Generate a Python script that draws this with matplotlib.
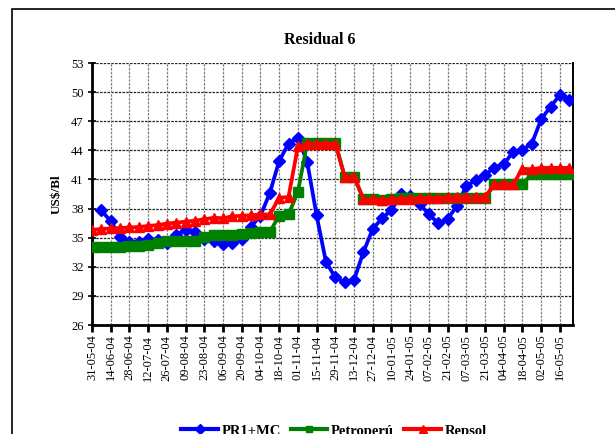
import numpy as np
import matplotlib
matplotlib.use("Agg")
import matplotlib.pyplot as plt
from matplotlib.patches import Rectangle
from matplotlib.lines import Line2D

title = "Residual 6"
ylabel = "US$/Bl"
series_names = ["PR1+MC", "Petroperú", "Repsol"]

tick_labels = ["31-05-04", "14-06-04", "28-06-04", "12-07-04", "26-07-04", "09-08-04",
               "23-08-04", "06-09-04", "20-09-04", "04-10-04", "18-10-04", "01-11-04",
               "15-11-04", "29-11-04", "13-12-04", "27-12-04", "10-01-05", "24-01-05",
               "07-02-05", "21-02-05", "07-03-05", "21-03-05", "04-04-05", "18-04-05",
               "02-05-05", "16-05-05"]

pr1mc = [np.nan, 37.8, 36.7, 35.1, 34.6, 34.6, 34.9, 34.8, 34.4, 35.3, 35.8, 35.6, 34.9,
         34.7, 34.35, 34.45, 34.85, 36.15, 37.25, 39.6, 42.9, 44.7, 45.3, 42.8, 37.3, 32.5,
         30.9, 30.4, 30.65, 33.5, 35.9, 37.0, 37.85, 39.45, 39.3, 38.5, 37.4, 36.5, 36.9,
         38.3, 40.35, 40.9, 41.5, 42.2, 42.6, 43.8, 44.05, 44.7, 47.2, 48.5, 49.7, 49.2]

petroperu = [34.0, 34.0, 34.05, 34.05, 34.1, 34.1, 34.25, 34.5, 34.65, 34.65, 34.7, 34.7,
             35.05, 35.3, 35.25, 35.25, 35.35, 35.45, 35.55, 35.6, 37.25, 37.4, 39.7,
             44.8, 44.8, 44.8, 44.8, 41.3, 41.3, 39.0, 39.0, 38.9, 38.95,
             39.05, 39.05, 39.05, 39.05, 39.05, 39.05, 39.05, 39.05, 39.05, 39.05,
             40.5, 40.5, 40.5, 40.5, 41.6, 41.6, 41.6, 41.6, 41.6]

repsol = [35.8, 35.9, 35.95, 36.0, 36.05, 36.1, 36.2, 36.3, 36.45, 36.55, 36.65, 36.75,
          36.9, 37.05, 37.0, 37.2, 37.25, 37.3, 37.4, 37.4, 39.1, 39.2, 44.4,
          44.7, 44.7, 44.7, 44.7, 41.3, 41.3, 38.95, 38.95, 38.85, 38.95, 39.0, 39.0,
          39.1, 39.1, 39.1, 39.2, 39.2, 39.2, 39.2, 39.2, 40.5, 40.5, 40.5,
          42.1, 42.05, 42.2, 42.2, 42.2, 42.2]

yticks = [26, 29, 32, 35, 38, 41, 44, 47, 50, 53]

n = len(repsol)
x = np.arange(n)

serif = ["Liberation Serif", "DejaVu Serif"]
plt.rcParams['font.family'] = serif

fig = plt.figure(figsize=(6.15, 4.34), dpi=100)
fig.patch.set_facecolor("white")

# outer chart border
fig.add_artist(Rectangle((12 / 615, -0.2), 1.2, 1.2 - 9 / 434,
                         transform=fig.transFigure, fill=False, edgecolor="black",
                         linewidth=1.2))

ax = fig.add_axes([92 / 615, 1 - 325 / 434, (573 - 92) / 615, (325 - 63) / 434])

ax.plot(x, pr1mc, color="#0000FF", lw=2.7, marker="D", ms=6.5, zorder=3, label=series_names[0])
ax.plot(x, petroperu, color="#008000", lw=2.7, marker="s", ms=6.5, zorder=4, label=series_names[1])
ax.plot(x, repsol, color="#FF0000", lw=2.7, marker="^", ms=7.5, zorder=5, label=series_names[2])

ax.set_ylim(26, 53)
ax.set_xlim(0, 51.4)
ax.set_yticks(yticks)
ax.set_yticklabels([str(v) for v in yticks], fontsize=9)
tick_pos = np.arange(0, 2 * len(tick_labels), 2)
ax.set_xticks(tick_pos)
ax.set_xticklabels(tick_labels, rotation=90, fontsize=9)

# grid
for v in yticks:
    ax.axhline(v, color="#222222", lw=0.9, ls=(0, (2, 1)), zorder=1)
for p in tick_pos[1:]:
    ax.axvline(p, color="#808080", lw=0.9, ls=(0, (2, 1)), zorder=1)

ax.spines["top"].set_visible(False)
ax.spines["left"].set_linewidth(2.0)
ax.spines["bottom"].set_linewidth(2.0)
ax.spines["right"].set_linewidth(1.4)
ax.tick_params(axis="x", direction="out", length=5, width=2.0, pad=2)
ax.tick_params(axis="y", direction="inout", length=6, width=1.2, pad=3)

fig.text(320 / 615, 1 - 40 / 434, title, fontsize=11.5, fontweight="bold",
         ha="center", va="center")
ax.set_ylabel(ylabel, fontsize=9.5, fontweight="bold", labelpad=6)

handles = [Line2D([], [], color="#0000FF", lw=3, marker="D", ms=5.5),
           Line2D([], [], color="#008000", lw=3, marker="s", ms=5),
           Line2D([], [], color="#FF0000", lw=3, marker="^", ms=6)]
fig.legend(handles, series_names, loc="center", bbox_to_anchor=(334 / 615, 0.007),
           ncol=3, frameon=False, prop={"weight": "bold", "size": 10.5},
           handlelength=2.5, columnspacing=0.7, handletextpad=0.25)

fig.savefig("out.png", dpi=100)
